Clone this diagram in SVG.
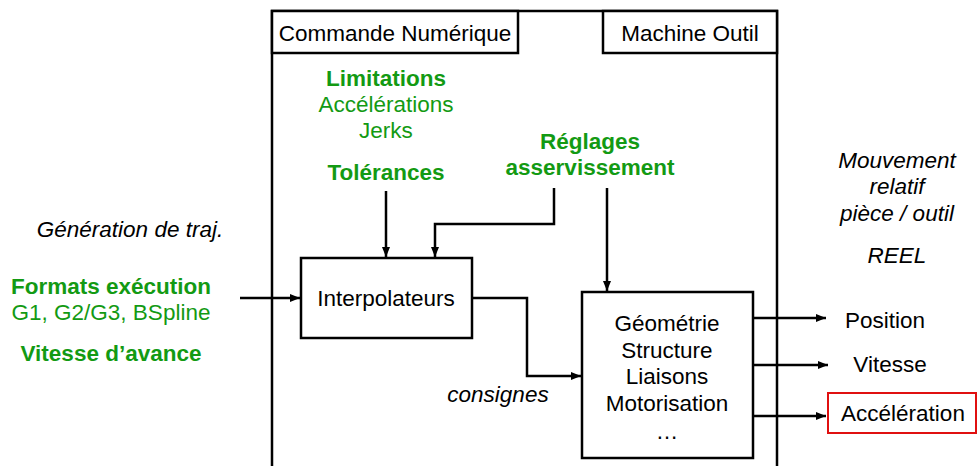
<svg xmlns="http://www.w3.org/2000/svg" width="978" height="466" viewBox="0 0 978 466">
<style>
text{font-family:"Liberation Sans",Arial,sans-serif;font-size:22.5px;text-anchor:middle;fill:#000}
.g{fill:#139a13}
.b{font-weight:bold}
.i{font-style:italic}
.box{fill:#fff;stroke:#000;stroke-width:2.5}
.ln{fill:none;stroke:#000;stroke-width:2.5}
</style>
<defs>
<marker id="ah" viewBox="0 0 10 10" refX="10" refY="5" markerWidth="10" markerHeight="10" markerUnits="userSpaceOnUse" orient="auto">
<path d="M0,1 L10,5 L0,9 z" fill="#000"/>
</marker>
</defs>
<g id="frame">
<path class="ln" d="M272,466 V11 H777 V466"/>
</g>
<g id="cn"><rect class="box" x="272" y="11" width="246" height="42"/><text x="395" y="41">Commande Numérique</text></g>
<g id="mo"><rect class="box" x="603" y="11" width="174" height="42"/><text x="690" y="41">Machine Outil</text></g>
<g id="limitations">
<text class="g b" x="386" y="86">Limitations</text>
<text class="g" x="386" y="112">Accélérations</text>
<text class="g" x="386" y="138">Jerks</text>
</g>
<g id="tolerances"><text class="g b" x="386" y="180">Tolérances</text></g>
<g id="reglages"><text class="g b" x="590" y="149">Réglages</text><text class="g b" x="590" y="175">asservissement</text></g>
<g id="generation"><text class="i" x="130" y="237">Génération de traj.</text></g>
<g id="formats">
<text class="g b" x="111" y="294">Formats exécution</text>
<text class="g" x="111" y="320">G1, G2/G3, BSpline</text>
<text class="g b" x="111" y="361">Vitesse d’avance</text>
</g>
<g id="mouvement">
<text class="i" x="897" y="168">Mouvement</text>
<text class="i" x="897" y="194">relatif</text>
<text class="i" x="897" y="221">pièce / outil</text>
<text class="i" x="897" y="263">REEL</text>
</g>
<g id="interpolateurs"><rect class="box" x="301" y="258" width="171" height="80"/><text x="386" y="306">Interpolateurs</text></g>
<g id="geometrie"><rect class="box" x="582" y="292" width="171" height="166"/>
<text x="667" y="331">Géométrie</text>
<text x="667" y="358">Structure</text>
<text x="667" y="384">Liaisons</text>
<text x="667" y="411">Motorisation</text>
<text x="667" y="439">…</text>
</g>
<g id="consignes"><text class="i" x="498" y="402">consignes</text></g>
<g id="position"><text x="885" y="328">Position</text></g>
<g id="vitesse"><text x="890" y="372">Vitesse</text></g>
<g id="acceleration"><rect x="828" y="393" width="148" height="40" fill="#fff" stroke="#e01010" stroke-width="2"/><text x="903" y="421">Accélération</text></g>
<g id="connectors">
<path class="ln" d="M240,298 H300" marker-end="url(#ah)"/>
<path class="ln" d="M386,191 V257" marker-end="url(#ah)"/>
<path class="ln" d="M554,188 V224 H435 V257" marker-end="url(#ah)"/>
<path class="ln" d="M607,188 V291" marker-end="url(#ah)"/>
<path class="ln" d="M472,298 H527 V376 H581" marker-end="url(#ah)"/>
<path class="ln" d="M753,318 H826" marker-end="url(#ah)"/>
<path class="ln" d="M753,365 H828" marker-end="url(#ah)"/>
<path class="ln" d="M753,416 H826" marker-end="url(#ah)"/>
</g>
</svg>
